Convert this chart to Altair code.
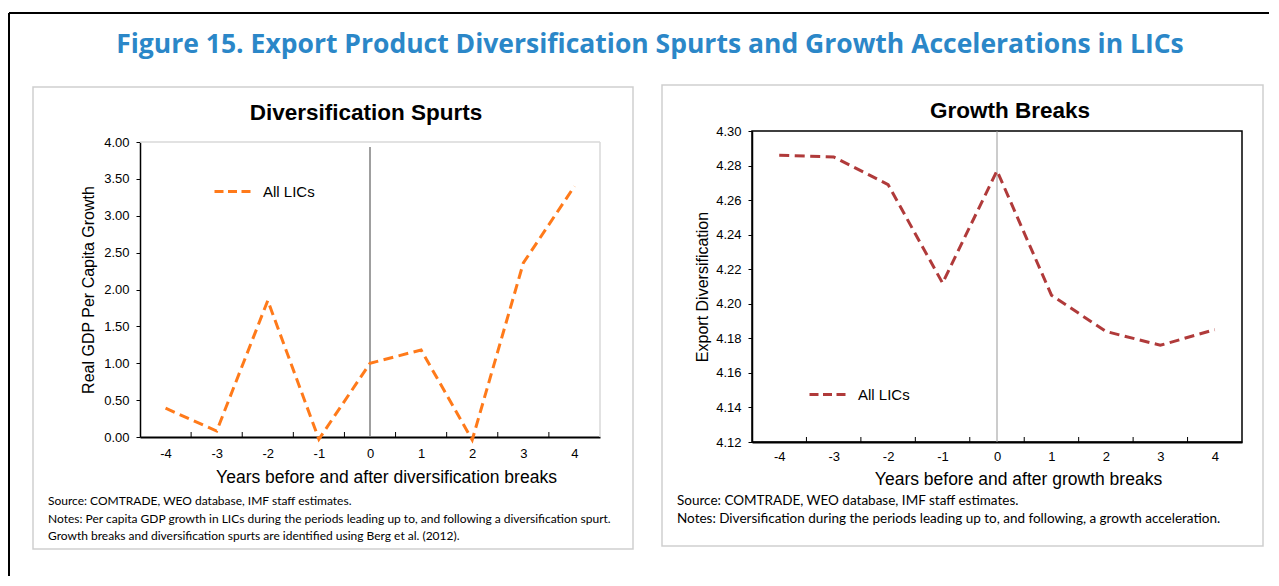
import altair as alt
import pandas as pd

# ---------------- data ----------------
years = [-4, -3, -2, -1, 0, 1, 2, 3, 4]
gdp_growth = [0.39, 0.08, 1.85, -0.03, 1.00, 1.18, -0.04, 2.36, 3.40]
export_div = [4.286, 4.285, 4.269, 4.212, 4.277, 4.205, 4.184, 4.176, 4.185]
series_name = "All LICs"
break_year = [0]
band_edges = [-3.5, -2.5, -1.5, -0.5, 0.5, 1.5, 2.5, 3.5]
left_yticks = [0.0, 0.5, 1.0, 1.5, 2.0, 2.5, 3.0, 3.5, 4.0]
right_yticks = [4.12, 4.14, 4.16, 4.18, 4.20, 4.22, 4.24, 4.26, 4.28, 4.30]

main_title = "Figure 15. Export Product Diversification Spurts and Growth Accelerations in LICs"
left_title = "Diversification Spurts"
right_title = "Growth Breaks"
left_ytitle = "Real GDP Per Capita Growth"
right_ytitle = "Export Diversification"
left_xtitle = "Years before and after diversification breaks"
right_xtitle = "Years before and after growth breaks"
left_notes = [
    "Source: COMTRADE, WEO database, IMF staff estimates.",
    "Notes:  Per capita GDP growth in LICs during the periods leading up to, and following a diversification spurt.",
    "Growth breaks and diversification spurts are identified using Berg et al. (2012).",
]
right_notes = [
    "Source: COMTRADE, WEO database, IMF staff estimates.",
    "Notes:  Diversification during the periods leading up to, and following, a growth acceleration.",
]

# ---------------- styles ----------------
ARIAL = "Liberation Sans"
NOTE_FONT = "Lato"
TITLE_FONT = "Open Sans"
ORANGE = "#FF7A1A"
RED = "#B03A3A"
BLUE = "#2B87C8"
BOX = "#CFCFCF"

LW, LH = 460, 306
RW, RH = 490, 311

one = pd.DataFrame({"k": [0]})


def xenc(title, label_pad, title_pad, title_x):
    return alt.X(
        "year:Q",
        scale=alt.Scale(domain=[-4.5, 4.5], nice=False, zero=False),
        axis=alt.Axis(
            values=years, labelExpr="datum.value + ''", title=title, ticks=False, tickSize=0,
            labelPadding=label_pad, labelFontSize=13, labelFont=ARIAL,
            labelColor="black", labelFlush=False, labelOverlap=False,
            titleFont=ARIAL, titleFontSize=17.5, titleFontWeight="normal",
            titleColor="black", titlePadding=title_pad, titleX=title_x,
            domainColor="black", domainWidth=2, grid=False,
        ),
    )


def rect(x, x2, y, y2):
    return alt.Chart(one).mark_rect(
        fillOpacity=0, stroke=BOX, strokeWidth=1.5
    ).encode(x=alt.value(x), x2=alt.value(x2), y=alt.value(y), y2=alt.value(y2))


def rule(x, x2, y, y2, color, width):
    return alt.Chart(one).mark_rule(color=color, strokeWidth=width).encode(
        x=alt.value(x), x2=alt.value(x2), y=alt.value(y), y2=alt.value(y2)
    )


def text(s, x, y, font, size, weight="normal", color="black", align="center",
         baseline="middle", line_height=None):
    kw = dict(font=font, fontSize=size, fontWeight=weight, color=color,
              align=align, baseline=baseline)
    if line_height is not None:
        kw["lineHeight"] = line_height
    return alt.Chart(one).mark_text(**kw).encode(
        x=alt.value(x), y=alt.value(y), text=alt.value(s)
    )


def legend(lx, ly):
    return alt.Legend(
        orient="none", legendX=lx, legendY=ly, title=None,
        symbolType="stroke", symbolSize=1600, symbolStrokeWidth=3,
        symbolDash=[9, 4.5], labelFontSize=15, labelFont=ARIAL,
        labelColor="black", padding=0, labelOffset=7,
    )


# ---------------- left panel ----------------
left_df = pd.DataFrame({"year": years, "value": gdp_growth, "series": series_name})
edges_df = pd.DataFrame({"year": band_edges})
break_df = pd.DataFrame({"year": break_year})

lx = xenc(left_xtitle, 10, 8, 246)
left_line = alt.Chart(left_df).mark_line(strokeWidth=3, strokeDash=[10, 5.5]).encode(
    x=lx,
    y=alt.Y(
        "value:Q",
        scale=alt.Scale(domain=[0, 4], range=[LH, 11], nice=False, zero=False),
        axis=alt.Axis(
            values=left_yticks, format=".2f", title=left_ytitle, tickSize=4,
            tickColor="black", labelPadding=7, labelFontSize=13, labelFont=ARIAL,
            labelColor="black", titleFont=ARIAL, titleFontSize=16,
            titleFontWeight="normal", titleColor="black", titlePadding=7,
            domainColor="black", domainWidth=1.5, grid=False,
        ),
    ),
    color=alt.Color("series:N", scale=alt.Scale(domain=[series_name], range=[ORANGE]),
                    legend=legend(73, 39)),
)
left_break = alt.Chart(break_df).mark_rule(color="#7F7F7F", strokeWidth=1.5).encode(
    x=lx, y=alt.value(16), y2=alt.value(LH)
)
left_ticks = alt.Chart(edges_df).mark_rule(color="black", strokeWidth=1).encode(
    x=lx, y=alt.value(LH), y2=alt.value(LH - 5)
)

left = alt.layer(
    rect(-107, 493, -44, 418),
    rule(-131, 1129, -118, -118, "black", 2),
    rule(-131, -131, -118, 445, "black", 2),
    text(main_title, 510, -86, TITLE_FONT, 26.5, "bold", BLUE),
    text(left_title, 226, -18, ARIAL, 22.5, "bold"),
    rule(0, LW, 11, 11, "#D9D9D9", 1.5),
    rule(LW, LW, 11, LH, "#D9D9D9", 1.5),
    left_break,
    left_ticks,
    left_line,
    text(left_notes, -92, 365, NOTE_FONT, 12, align="left", baseline="top", line_height=17.5),
).properties(width=LW, height=LH)

# ---------------- right panel ----------------
right_df = pd.DataFrame({"year": years, "value": export_div, "series": series_name})

rx = xenc(right_xtitle, 8, 7, 266)
right_line = alt.Chart(right_df).mark_line(strokeWidth=3, strokeDash=[10, 5.5]).encode(
    x=rx,
    y=alt.Y(
        "value:Q",
        scale=alt.Scale(domain=[4.12, 4.30], nice=False, zero=False),
        axis=alt.Axis(
            values=right_yticks, format=".2f", title=right_ytitle, tickSize=4,
            tickColor="black", labelPadding=7, labelFontSize=13, labelFont=ARIAL,
            labelColor="black", titleFont=ARIAL, titleFontSize=16,
            titleFontWeight="normal", titleColor="black", titlePadding=5,
            domainColor="black", domainWidth=1.5, grid=False,
        ),
    ),
    color=alt.Color("series:N", scale=alt.Scale(domain=[series_name], range=[RED]),
                    legend=legend(56, 242)),
)
right_break = alt.Chart(break_df).mark_rule(color="#999999", strokeWidth=1).encode(
    x=rx, y=alt.value(0), y2=alt.value(RH)
)
right_ticks = alt.Chart(edges_df).mark_rule(color="black", strokeWidth=1).encode(
    x=rx, y=alt.value(RH), y2=alt.value(RH - 5)
)

right = alt.layer(
    rect(-90, 511, -46, 415),
    text(right_title, 258, -20, ARIAL, 22.5, "bold"),
    right_break,
    right_ticks,
    right_line,
    text(right_notes, -75, 363, NOTE_FONT, 13.5, align="left", baseline="top", line_height=18),
).properties(width=RW, height=RH, view=alt.ViewBackground(stroke="black", strokeWidth=1.5))

chart = (
    alt.hconcat(left, right, spacing=152, bounds="flush")
    .resolve_scale(x="independent", y="independent", color="independent")
    .resolve_legend(color="independent")
    .configure_view(stroke=None)
    .properties(padding={"left": 0, "top": 4, "right": 0, "bottom": 0}, background="white")
)

chart.save("out.html", embed_options={"renderer": "svg", "actions": False})
